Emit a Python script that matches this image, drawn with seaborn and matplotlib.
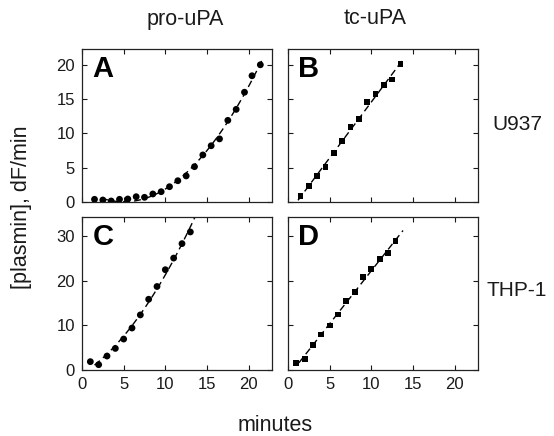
import numpy as np
import pandas as pd
import matplotlib
matplotlib.use("Agg")
import matplotlib.pyplot as plt
import seaborn as sns

# minutes / activity values
a_min = [1.5, 2.5, 3.5, 4.5, 5.5, 6.5, 7.5, 8.5, 9.5, 10.5, 11.5, 12.5, 13.5,
         14.5, 15.5, 16.5, 17.5, 18.5, 19.5, 20.4, 21.4]
a_val = [0.39, 0.29, 0.15, 0.39, 0.44, 0.77, 0.68, 1.17, 1.5, 2.23, 3.1, 3.8,
         5.15, 6.86, 8.2, 9.2, 11.9, 13.5, 16.0, 18.4, 20.0]

b_min = [1.5, 2.5, 3.5, 4.5, 5.5, 6.5, 7.5, 8.5, 9.5, 10.5, 11.5, 12.5, 13.5]
b_val = [0.92, 2.38, 3.75, 5.06, 7.1, 8.85, 10.94, 12.15, 14.58, 15.8, 17.1,
         17.85, 20.1]

c_min = [1, 2, 3, 4, 5, 6, 7, 8, 9, 10, 11, 12, 13]
c_val = [1.87, 1.19, 3.13, 4.84, 6.94, 9.41, 12.35, 15.86, 18.72, 22.48,
         25.09, 28.33, 30.95]

d_min = [1, 2, 3, 4, 5, 6, 7, 8, 9, 10, 11, 12, 12.9]
d_val = [1.49, 2.48, 5.63, 7.95, 9.98, 12.45, 15.45, 17.57, 20.86, 22.66,
         24.84, 26.13, 28.9]

col_titles = ["pro-uPA", "tc-uPA"]
row_titles = ["U937", "THP-1"]
x_ticks = [0, 5, 10, 15, 20]
y_ticks_top = [0, 5, 10, 15, 20]
y_ticks_bottom = [0, 10, 20, 30]

sns.set_style("ticks")
plt.rcParams["font.family"] = ["Liberation Sans", "DejaVu Sans"]
plt.rcParams["text.color"] = "#1a1a1a"

fig = plt.figure(figsize=(5.54, 4.36), dpi=100)


def panel(rect, x, y, letter, marker, order, ylim, yticks, extend,
          show_x=False, show_y=False):
    ax = fig.add_axes(rect)
    df = pd.DataFrame({"t": x, "v": y})
    # fitted curve through the points
    coef = np.polyfit(df["t"], df["v"], order)
    tt = np.linspace(df["t"].min() + extend[0], df["t"].max() + extend[1], 100)
    fit = pd.DataFrame({"t": tt, "v": np.polyval(coef, tt)})
    sns.lineplot(data=fit, x="t", y="v", ax=ax, color="black", lw=1.0,
                 linestyle=(0, (5, 3)), zorder=2)
    sns.scatterplot(data=df, x="t", y="v", ax=ax, color="black",
                    marker=marker, s=24 if marker == "o" else 18,
                    edgecolor="none", zorder=3)
    ax.set_xlim(0, 22.8)
    ax.set_ylim(*ylim)
    ax.set_xticks(x_ticks)
    ax.set_yticks(yticks)
    ax.tick_params(direction="in", top=True, right=True, length=3.5,
                   width=0.8, labelsize=12, colors="#1a1a1a", pad=5)
    if not show_x:
        ax.tick_params(labelbottom=False)
    if not show_y:
        ax.tick_params(labelleft=False)
    ax.set_xlabel("")
    ax.set_ylabel("")
    for s in ax.spines.values():
        s.set_linewidth(0.9)
        s.set_color("#222222")
    ax.text(0.055, 0.78, letter, transform=ax.transAxes, fontsize=21,
            fontweight="bold", va="bottom", ha="left", color="black")
    return ax


w = 190 / 554
h = 153 / 436
panel([82 / 554, 1 - 202 / 436, w, h], a_min, a_val, "A", "o", 2,
      (0, 22.3), y_ticks_top, (0.8, 0.3), show_y=True)
panel([288 / 554, 1 - 202 / 436, w, h], b_min, b_val, "B", "s", 1,
      (0, 22.3), y_ticks_top, (-0.3, 0.3))
panel([82 / 554, 1 - 370 / 436, w, h], c_min, c_val, "C", "o", 2,
      (0, 34.3), y_ticks_bottom, (0.5, 0.8), show_x=True, show_y=True)
panel([288 / 554, 1 - 370 / 436, w, h], d_min, d_val, "D", "s", 1,
      (0, 34.3), y_ticks_bottom, (0.3, 0.9), show_x=True)

fig.text(185 / 554, 1 - 19 / 436, col_titles[0], ha="center", va="center",
         fontsize=15.5)
fig.text(375 / 554, 1 - 19 / 436, col_titles[1], ha="center", va="center",
         fontsize=15.5)
fig.text(517 / 554, 1 - 124 / 436, row_titles[0], ha="center", va="center",
         fontsize=15)
fig.text(517 / 554, 1 - 290 / 436, row_titles[1], ha="center", va="center",
         fontsize=15)
fig.text(22 / 554, 1 - 207 / 436, "[plasmin], dF/min", rotation=90,
         ha="center", va="center", fontsize=15.5)
fig.text(275 / 554, 1 - 425 / 436, "minutes", ha="center", va="center",
         fontsize=15.5)

fig.savefig("out.png", dpi=100)
